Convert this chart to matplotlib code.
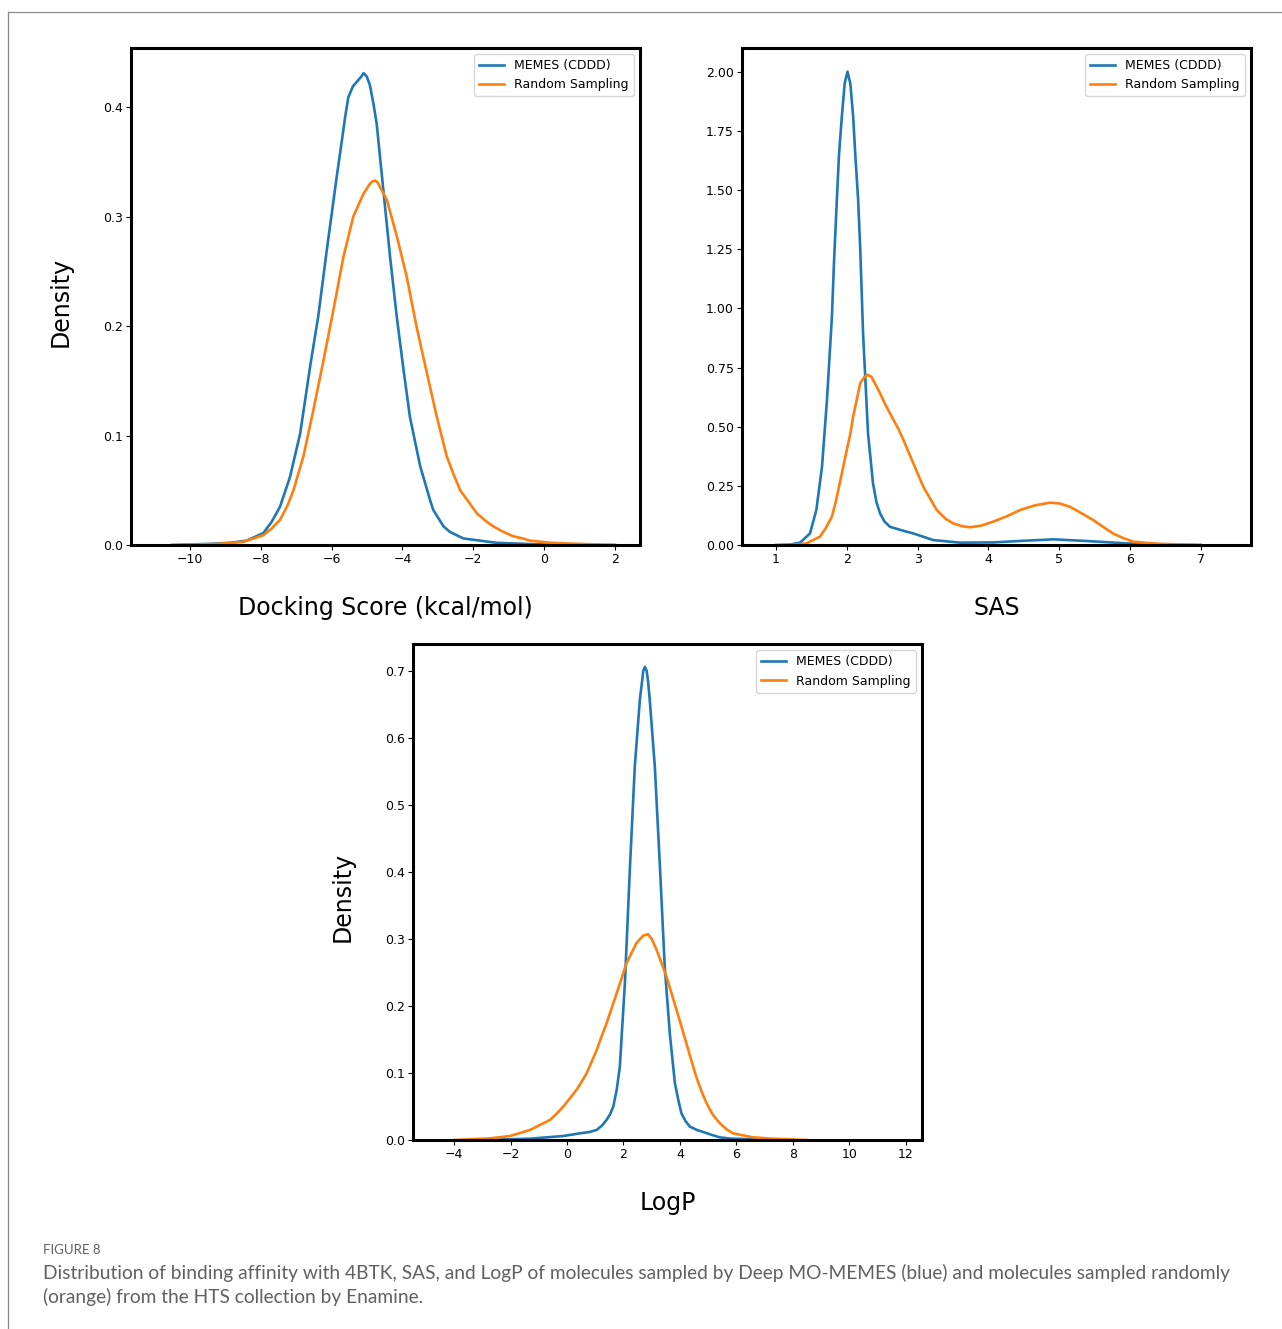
"""
plot.py
-------
Density curves of docking score, SAS and LogP for molecules sampled by
MEMES (CDDD) versus random sampling (Figure 8).
"""

import matplotlib
matplotlib.use("Agg")
import matplotlib.pyplot as plt
from matplotlib.lines import Line2D

BLUE = "#1f77b4"
ORANGE = "#ff7f0e"
LABELS = ["MEMES (CDDD)", "Random Sampling"]

# Docking score (kcal/mol) densities
dock_memes_x = [-10.5, -9.5, -8.87, -8.40, -7.93, -7.70, -7.46, -7.18, -6.89, -6.61, -6.38,
                -6.14, -5.86, -5.71, -5.62, -5.53, -5.40, -5.24, -5.16, -5.10, -5.01,
                -4.92, -4.82, -4.73, -4.54, -4.35, -4.16, -3.97, -3.79, -3.50, -3.22,
                -3.13, -2.84, -2.66, -2.28, -1.81, -1.34, -0.5, 0.5, 2.0]
dock_memes_y = [0.0, 0.001, 0.002, 0.004, 0.011, 0.021, 0.035, 0.062, 0.102, 0.163, 0.209,
                0.269, 0.336, 0.370, 0.391, 0.409, 0.419, 0.425, 0.428, 0.431, 0.428,
                0.420, 0.403, 0.385, 0.324, 0.263, 0.208, 0.160, 0.117, 0.072, 0.041,
                0.032, 0.017, 0.012, 0.006, 0.004, 0.002, 0.001, 0.0, 0.0]
dock_random_x = [-10.5, -9.2, -8.49, -7.93, -7.70, -7.46, -7.25, -7.08, -6.80, -6.52, -6.23,
                 -5.95, -5.67, -5.39, -5.10, -4.92, -4.85, -4.77, -4.70, -4.60, -4.44,
                 -4.16, -3.88, -3.60, -3.31, -3.03, -2.75, -2.55, -2.37, -2.10, -1.90,
                 -1.65, -1.43, -1.15, -0.87, -0.60, -0.40, 0.2, 1.0, 2.0]
dock_random_y = [0.0, 0.001, 0.003, 0.009, 0.015, 0.023, 0.036, 0.050, 0.081, 0.123, 0.169,
                 0.215, 0.263, 0.300, 0.321, 0.330, 0.332, 0.333, 0.331, 0.325, 0.315,
                 0.282, 0.245, 0.199, 0.157, 0.117, 0.081, 0.064, 0.050, 0.038, 0.029,
                 0.022, 0.017, 0.012, 0.008, 0.006, 0.004, 0.002, 0.001, 0.0]

# SAS densities
sas_memes_x = [1.0, 1.20, 1.34, 1.48, 1.57, 1.65, 1.72, 1.79, 1.82, 1.86, 1.89, 1.93, 1.97,
               2.01, 2.05, 2.09, 2.12, 2.16, 2.19, 2.23, 2.30, 2.37, 2.42, 2.47, 2.53, 2.61,
               2.80, 2.94, 3.22, 3.60, 4.07, 4.50, 4.92, 5.39, 5.95, 6.4, 7.0]
sas_memes_y = [0.0, 0.002, 0.010, 0.049, 0.148, 0.331, 0.613, 0.965, 1.20, 1.46, 1.65, 1.81, 1.95,
               2.00, 1.95, 1.81, 1.65, 1.46, 1.25, 0.895, 0.472, 0.261, 0.180, 0.134, 0.100, 0.077,
               0.060, 0.049, 0.021, 0.010, 0.011, 0.018, 0.024, 0.017, 0.007, 0.002, 0.0]
sas_random_x = [1.1, 1.30, 1.43, 1.62, 1.70, 1.79, 1.85, 1.90, 1.95, 2.00, 2.05, 2.09, 2.19,
                2.25, 2.30, 2.35, 2.47, 2.55, 2.66, 2.73, 2.80, 2.94, 3.08, 3.27, 3.40, 3.50,
                3.62, 3.74, 3.90, 4.07, 4.25, 4.45, 4.65, 4.87, 5.00, 5.15, 5.30, 5.48,
                5.62, 5.76, 5.90, 6.05, 6.20, 6.42, 7.0]
sas_random_y = [0.0, 0.002, 0.007, 0.035, 0.070, 0.120, 0.190, 0.261, 0.330, 0.402, 0.470, 0.543,
                0.684, 0.710, 0.719, 0.710, 0.641, 0.590, 0.529, 0.490, 0.444, 0.345, 0.247,
                0.148, 0.110, 0.092, 0.080, 0.075, 0.082, 0.099, 0.120, 0.148, 0.167, 0.179,
                0.176, 0.162, 0.137, 0.106, 0.077, 0.049, 0.030, 0.014, 0.010, 0.005, 0.0]

# LogP densities
logp_memes_x = [-3.0, -1.31, -0.13, 0.46, 0.80, 1.05, 1.25, 1.40, 1.52, 1.64, 1.76, 1.87,
                2.05, 2.23, 2.40, 2.58, 2.66, 2.70, 2.76, 2.82, 2.87, 2.93, 3.11, 3.29,
                3.46, 3.64, 3.82, 3.94, 4.05, 4.20, 4.35, 4.60, 4.82, 5.10, 5.41, 5.80,
                6.35, 8.0]
logp_memes_y = [0.0, 0.002, 0.006, 0.010, 0.012, 0.015, 0.022, 0.030, 0.038, 0.050, 0.075, 0.109,
                0.234, 0.408, 0.557, 0.657, 0.685, 0.700, 0.706, 0.700, 0.685, 0.657, 0.557, 0.408,
                0.259, 0.159, 0.085, 0.060, 0.040, 0.028, 0.020, 0.015, 0.012, 0.008, 0.004, 0.002,
                0.0015, 0.0]
logp_random_x = [-4.0, -2.72, -2.01, -1.31, -0.60, -0.35, -0.13, 0.10, 0.34, 0.52, 0.70, 1.05,
                 1.22, 1.40, 1.76, 2.11, 2.46, 2.70, 2.87, 3.00, 3.17, 3.52, 3.88, 4.23, 4.40,
                 4.58, 4.76, 4.94, 5.16, 5.41, 5.65, 5.88, 6.58, 7.29, 8.5]
logp_random_y = [0.0, 0.0025, 0.006, 0.015, 0.030, 0.040, 0.050, 0.062, 0.075, 0.087, 0.100, 0.134,
                 0.154, 0.174, 0.219, 0.264, 0.294, 0.305, 0.307, 0.300, 0.284, 0.244, 0.194, 0.144,
                 0.119, 0.094, 0.073, 0.055, 0.038, 0.025, 0.016, 0.010, 0.004, 0.002, 0.0]


def draw_panel(ax, xs, ys, xlabel, xlim, ylim, xticks, yticks, yfmt, ylabel=None):
    """Draws the two density curves for one property."""
    ax.plot(xs[0], ys[0], color=BLUE, lw=1.9, label=LABELS[0], solid_joinstyle="round")
    ax.plot(xs[1], ys[1], color=ORANGE, lw=1.9, label=LABELS[1], solid_joinstyle="round")
    ax.set_xlim(*xlim)
    ax.set_ylim(*ylim)
    ax.set_xticks(xticks)
    ax.set_yticks(yticks)
    ax.set_yticklabels([yfmt.format(v) for v in yticks])
    ax.tick_params(labelsize=9, length=3.5, pad=2.5)
    for sp in ax.spines.values():
        sp.set_linewidth(2.2)
    ax.set_xlabel(xlabel, fontsize=17)
    ax.xaxis.set_label_coords(0.5, -0.103)
    if ylabel:
        ax.set_ylabel(ylabel, fontsize=17)
        ax.yaxis.set_label_coords(-0.115, 0.49)
    ax.legend(loc="upper right", fontsize=9)


fig = plt.figure(figsize=(12.82, 13.29), dpi=100)

ax1 = fig.add_axes([0.1022, 0.5899, 0.397, 0.374])
draw_panel(ax1, [dock_memes_x, dock_random_x], [dock_memes_y, dock_random_y],
           "Docking Score (kcal/mol)", (-11.67, 2.71), (0, 0.454),
           [-10, -8, -6, -4, -2, 0, 2], [0.0, 0.1, 0.2, 0.3, 0.4], "{:.1f}", "Density")

ax2 = fig.add_axes([0.5788, 0.5899, 0.397, 0.374])
draw_panel(ax2, [sas_memes_x, sas_random_x], [sas_memes_y, sas_random_y],
           "SAS", (0.52, 7.71), (0, 2.10),
           [1, 2, 3, 4, 5, 6, 7], [0.0, 0.25, 0.5, 0.75, 1.0, 1.25, 1.5, 1.75, 2.0], "{:.2f}")

ax3 = fig.add_axes([0.3222, 0.1422, 0.397, 0.3732])
draw_panel(ax3, [logp_memes_x, logp_random_x], [logp_memes_y, logp_random_y],
           "LogP", (-5.45, 12.57), (0, 0.740),
           [-4, -2, 0, 2, 4, 6, 8, 10, 12], [0.0, 0.1, 0.2, 0.3, 0.4, 0.5, 0.6, 0.7], "{:.1f}",
           "Density")

# journal frame and caption
fig.add_artist(Line2D([0.0065, 0.0065], [0.0, 0.991], color="#8a8a8a", lw=0.9))
fig.add_artist(Line2D([0.0065, 1.0], [0.991, 0.991], color="#8a8a8a", lw=0.9))
fig.text(0.0335, 1 - 1250 / 1329, "FIGURE 8", fontsize=9.5, color="#606060",
         family="Lato", va="center")
fig.text(0.0335, 1 - 1273 / 1329,
         "Distribution of binding affinity with 4BTK, SAS, and LogP of molecules sampled by "
         "Deep MO-MEMES (blue) and molecules sampled randomly",
         fontsize=13.8, color="#606060", family="Lato", va="center")
fig.text(0.0335, 1 - 1297 / 1329, "(orange) from the HTS collection by Enamine.",
         fontsize=13.8, color="#606060", family="Lato", va="center")

fig.savefig("out.png", dpi=100)
